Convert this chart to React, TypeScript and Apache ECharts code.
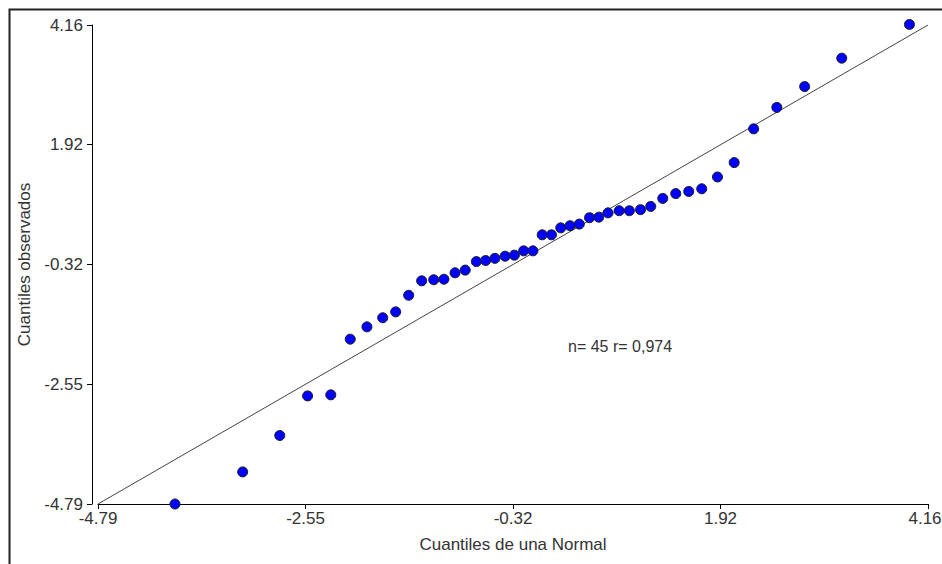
import React, { useEffect, useRef } from "react";
import * as echarts from "echarts";

const tickValues = [-4.79, -2.5525, -0.315, 1.9225, 4.16];
const tickLabels = ["-4.79", "-2.55", "-0.32", "1.92", "4.16"];

const normalQuantiles = [
  -3.96, -3.23, -2.83, -2.53, -2.28, -2.07, -1.89, -1.72, -1.58, -1.44, -1.3,
  -1.17, -1.06, -0.94, -0.83, -0.71, -0.61, -0.51, -0.4, -0.3, -0.2, -0.1, 0.0,
  0.1, 0.2, 0.3, 0.4, 0.51, 0.61, 0.71, 0.83, 0.94, 1.06, 1.17, 1.3, 1.44, 1.58,
  1.72, 1.89, 2.07, 2.28, 2.53, 2.83, 3.23, 3.96,
];
const observedQuantiles = [
  -4.79, -4.19, -3.51, -2.77, -2.75, -1.71, -1.48, -1.31, -1.2, -0.89, -0.62,
  -0.6, -0.59, -0.47, -0.42, -0.26, -0.24, -0.2, -0.16, -0.14, -0.06, -0.06,
  0.24, 0.24, 0.37, 0.41, 0.44, 0.56, 0.57, 0.65, 0.69, 0.69, 0.71, 0.77, 0.92,
  1.01, 1.05, 1.1, 1.32, 1.59, 2.22, 2.62, 3.01, 3.54, 4.17,
];
const refLine = [
  [-4.79, -4.79],
  [4.16, 4.16],
];
const annotation = "n= 45 r= 0,974";
const xTitle = "Cuantiles de una Normal";
const yTitle = "Cuantiles observados";

const FONT = "'Liberation Sans', Arial, sans-serif";

function nearestIndex(v: number) {
  let best = 0;
  let bd = Infinity;
  tickValues.forEach((t, i) => {
    const d = Math.abs(t - v);
    if (d < bd) {
      bd = d;
      best = i;
    }
  });
  return best;
}

export default function App() {
  const ref = useRef<HTMLDivElement>(null);
  useEffect(() => {
    if (!ref.current) return;
    const chart = echarts.init(ref.current, undefined, { renderer: "svg" });
    const axisCommon = {
      type: "value" as const,
      min: -4.79,
      max: 4.16,
      splitLine: { show: false },
      axisLine: { show: true, onZero: false, lineStyle: { color: "#000", width: 1 } },
      axisTick: {
        show: true,
        length: 5,
        customValues: tickValues,
        lineStyle: { color: "#000", width: 1 },
      },
      nameLocation: "middle" as const,
      nameTextStyle: { fontFamily: FONT, fontSize: 17, color: "#333" },
    };
    const labelStyle = {
      fontFamily: FONT,
      fontSize: 17,
      color: "#333",
    };
    chart.setOption({
      animation: false,
      backgroundColor: "#fff",
      grid: {
        left: 98,
        right: 14,
        top: 25,
        bottom: 60,
        containLabel: false,
        outerBoundsMode: "none",
      },
      xAxis: {
        ...axisCommon,
        name: xTitle,
        nameGap: 32,
        axisLabel: {
          customValues: tickValues,
          margin: 6,
          ...labelStyle,
          formatter: (v: number) => {
            const i = nearestIndex(v);
            return i === tickValues.length - 1
              ? "{m|" + tickLabels[i] + "}"
              : tickLabels[i];
          },
          rich: {
            m: { ...labelStyle, padding: [0, 6, 0, 0] },
          },
        },
      },
      yAxis: {
        ...axisCommon,
        name: yTitle,
        nameGap: 55,
        offset: 6,
        axisLabel: {
          customValues: tickValues,
          margin: 9,
          ...labelStyle,
          formatter: (v: number) => tickLabels[nearestIndex(v)],
        },
      },
      graphic: [
        {
          type: "rect",
          shape: { x: 9.5, y: 9.5, width: 1200, height: 1200 },
          style: { fill: "none", stroke: "#222", lineWidth: 2 },
          silent: true,
        },
        {
          type: "text",
          left: 568,
          top: 338,
          style: {
            text: annotation,
            fontFamily: FONT,
            fontSize: 16,
            fill: "#333",
          },
        },
      ],
      series: [
        {
          type: "line",
          data: refLine,
          symbol: "none",
          lineStyle: { color: "#444", width: 1 },
          silent: true,
          z: 2,
        },
        {
          type: "scatter",
          data: normalQuantiles.map((x, i) => [x, observedQuantiles[i]]),
          symbolSize: 10,
          clip: false,
          itemStyle: {
            color: "#0000ff",
            borderColor: "#1a1a1a",
            borderWidth: 1,
            opacity: 1,
          },
          z: 3,
        },
      ],
    });
    return () => chart.dispose();
  }, []);
  return (
    <div
      ref={ref}
      style={{ position: "fixed", left: 0, top: 0, width: 942, height: 564 }}
    />
  );
}
